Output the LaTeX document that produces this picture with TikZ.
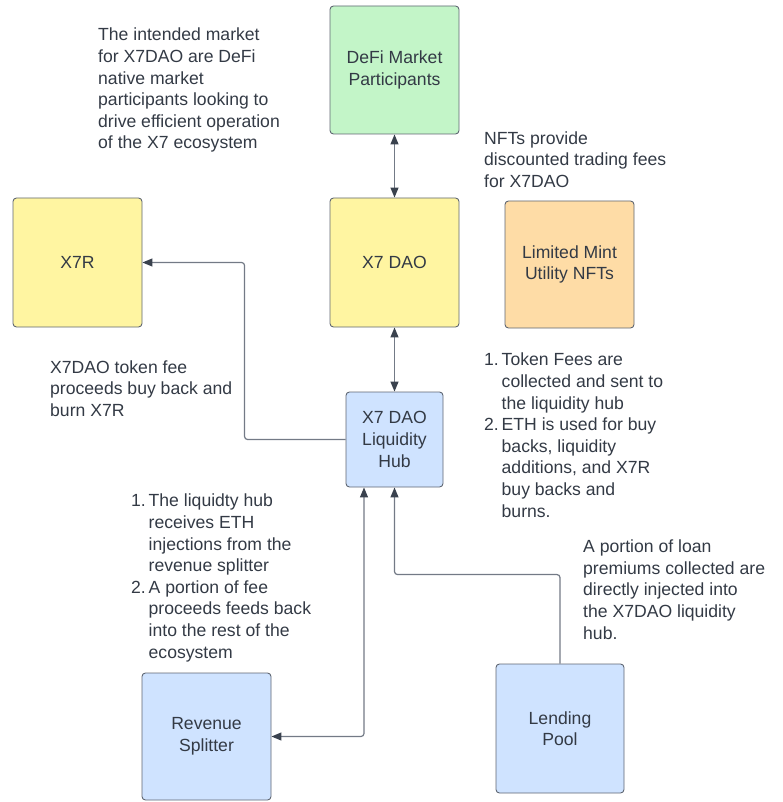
\documentclass[tikz,border=0pt]{standalone}
\usepackage{fontspec}
\setmainfont{Liberation Sans}
\usetikzlibrary{arrows.meta}
\definecolor{txt}{HTML}{333A45}
\definecolor{bord}{HTML}{5F6672}
\definecolor{lin}{HTML}{737A86}
\definecolor{head}{HTML}{3A424E}
\definecolor{cgreen}{HTML}{C3F5C8}
\definecolor{cyellow}{HTML}{FFF5A1}
\definecolor{corange}{HTML}{FEDCA6}
\definecolor{cblue}{HTML}{CFE3FF}
\tikzset{
  boxnode/.style={draw=bord, line width=0.9pt, rounded corners=3.5pt, inner sep=0pt,
    text=txt, align=center, font=\fontsize{17.6}{21.6}\selectfont},
  note/.style={text=txt, align=left, inner sep=0pt, anchor=base west,
    font=\fontsize{17.6}{21.6}\selectfont},
  conn/.style={draw=lin, line width=1.2pt, rounded corners=3pt,
    >={Triangle[length=10pt,width=8pt,color=head]}},
}
\newcommand{\numitem}[1]{\makebox[17.5pt][l]{#1}}
\newcommand{\indt}{\hspace*{17.5pt}}
\begin{document}
\begin{tikzpicture}[x=1pt,y=-1pt]
\useasboundingbox (0,0) rectangle (783,802);
% boxes
\node[boxnode, fill=cgreen, minimum width=129pt, minimum height=128pt] (defi) at (394.5,70) {DeFi Market\\Participants};
\node[boxnode, fill=cyellow, minimum width=129pt, minimum height=129pt] (dao) at (394.5,262.5) {X7 DAO};
\node[boxnode, fill=cyellow, minimum width=129pt, minimum height=129pt] (x7r) at (77.5,262.5) {X7R};
\node[boxnode, fill=corange, minimum width=129pt, minimum height=127pt] (nft) at (569.5,264.5) {Limited Mint\\Utility NFTs};
\node[boxnode, fill=cblue, minimum width=97pt, minimum height=95pt] (hub) at (394.5,439.5) {X7 DAO\\Liquidity\\Hub};
\node[boxnode, fill=cblue, minimum width=129pt, minimum height=127pt] (rev) at (206.5,736.5) {Revenue\\Splitter};
\node[boxnode, fill=cblue, minimum width=128pt, minimum height=129pt] (lend) at (560,728.5) {Lending\\Pool};
% notes (anchored at the baseline of their last line)
\node[note] (n1) at (98,149) {The intended market\\for X7DAO are DeFi\\native market\\participants looking to\\drive efficient operation\\of the X7 ecosystem};
\node[note] (n2) at (484,187.5) {NFTs provide\\discounted trading fees\\for X7DAO};
\node[note] (n3) at (50,416.5) {X7DAO token fee\\proceeds buy back and\\burn X7R};
\node[note] (n4) at (484,517) {\numitem{1.}Token Fees are\\\indt collected and sent to\\\indt the liquidity hub\\\numitem{2.}ETH is used for buy\\\indt backs, liquidity\\\indt additions, and X7R\\\indt buy backs and\\\indt burns.};
\node[note] (n5) at (131,658) {\numitem{1.}The liquidty hub\\\indt receives ETH\\\indt injections from the\\\indt revenue splitter\\\numitem{2.}A portion of fee\\\indt proceeds feeds back\\\indt into the rest of the\\\indt ecosystem};
\node[note] (n6) at (583,639) {A portion of loan\\premiums collected are\\directly injected into\\the X7DAO liquidity\\hub.};
% connectors
\draw[conn, <->] (defi.south) -- (dao.north);
\draw[conn, <->] (dao.south) -- (hub.north);
\draw[conn, ->] (hub.west) -- ++(-101,0) |- (x7r.east);
\draw[conn, <->] ([xshift=-30.5pt]hub.south) |- (rev.east);
\draw[conn, ->] (lend.north) -- ++(0,-89) -| (hub.south);
\end{tikzpicture}
\end{document}
